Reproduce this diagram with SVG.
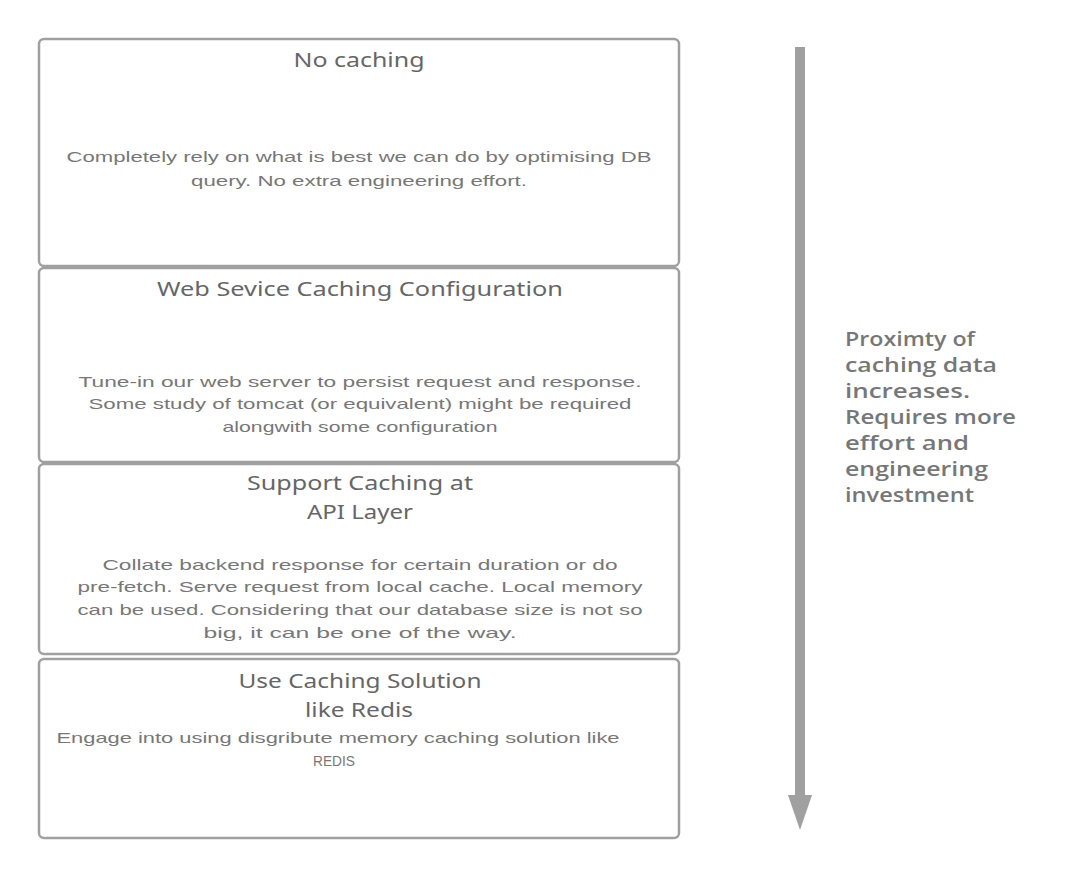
<svg xmlns="http://www.w3.org/2000/svg" width="1080" height="880" viewBox="0 0 1080 880">
<style>
.box{fill:#ffffff;stroke:#a0a0a0;stroke-width:2.5}
.t{font-family:"Noto Sans","Liberation Sans",sans-serif;font-size:19px;fill:#666666;text-anchor:middle}
.b{font-family:"Liberation Sans","Noto Sans",sans-serif;font-size:15px;fill:#777777;text-anchor:middle}
.r{font-family:"Open Sans","Noto Sans","Liberation Sans",sans-serif;font-size:19px;font-weight:600;fill:#777777}
</style>
<rect width="1080" height="880" fill="#ffffff"/>
<g id="node-no-caching">
<rect class="box" x="39" y="39" width="640" height="227" rx="5"/>
<text class="t" x="359" y="67" textLength="131" lengthAdjust="spacingAndGlyphs">No caching</text>
<text class="b" x="359" y="162" textLength="585" lengthAdjust="spacingAndGlyphs">Completely rely on what is best we can do by optimising DB</text>
<text class="b" x="359" y="186" textLength="336" lengthAdjust="spacingAndGlyphs">query. No extra engineering effort.</text>
</g>
<g id="node-web-service">
<rect class="box" x="39" y="268" width="640" height="194" rx="5"/>
<text class="t" x="360" y="296" textLength="406" lengthAdjust="spacingAndGlyphs">Web Sevice Caching Configuration</text>
<text class="b" x="360" y="387" textLength="563" lengthAdjust="spacingAndGlyphs">Tune-in our web server to persist request and response.</text>
<text class="b" x="360" y="409" textLength="543" lengthAdjust="spacingAndGlyphs">Some study of tomcat (or equivalent) might be required</text>
<text class="b" x="360" y="432" textLength="275" lengthAdjust="spacingAndGlyphs">alongwith some configuration</text>
</g>
<g id="node-api-layer">
<rect class="box" x="39" y="464" width="640" height="190" rx="5"/>
<text class="t" x="360" y="490" textLength="226" lengthAdjust="spacingAndGlyphs">Support Caching at</text>
<text class="t" x="360" y="519" textLength="106" lengthAdjust="spacingAndGlyphs">API Layer</text>
<text class="b" x="360" y="570" textLength="515" lengthAdjust="spacingAndGlyphs">Collate backend response for certain duration or do</text>
<text class="b" x="360" y="592" textLength="565" lengthAdjust="spacingAndGlyphs">pre-fetch. Serve request from local cache. Local memory</text>
<text class="b" x="360" y="615" textLength="565" lengthAdjust="spacingAndGlyphs">can be used. Considering that our database size is not so</text>
<text class="b" x="360" y="638" textLength="313" lengthAdjust="spacingAndGlyphs">big, it can be one of the way.</text>
</g>
<g id="node-redis">
<rect class="box" x="39" y="659" width="640" height="179" rx="5"/>
<text class="t" x="360" y="688" textLength="243" lengthAdjust="spacingAndGlyphs">Use Caching Solution</text>
<text class="t" x="359" y="717" textLength="108" lengthAdjust="spacingAndGlyphs">like Redis</text>
<text class="b" x="338" y="743" textLength="563" lengthAdjust="spacingAndGlyphs">Engage into using disgribute memory caching solution like</text>
<text class="b" x="334" y="766" textLength="42" lengthAdjust="spacingAndGlyphs">REDIS</text>
</g>
<g id="connectors">
<rect x="795" y="47" width="10" height="749" fill="#a0a0a0"/>
<polygon points="788,795 812,795 800,830" fill="#a0a0a0"/>
</g>
<g id="label-proximity">
<text class="r" x="845" y="346" textLength="130" lengthAdjust="spacingAndGlyphs">Proximty of</text>
<text class="r" x="845" y="372" textLength="152" lengthAdjust="spacingAndGlyphs">caching data</text>
<text class="r" x="845" y="398" textLength="125" lengthAdjust="spacingAndGlyphs">increases.</text>
<text class="r" x="845" y="424" textLength="171" lengthAdjust="spacingAndGlyphs">Requires more</text>
<text class="r" x="845" y="450" textLength="124" lengthAdjust="spacingAndGlyphs">effort and</text>
<text class="r" x="845" y="476" textLength="143" lengthAdjust="spacingAndGlyphs">engineering</text>
<text class="r" x="845" y="502" textLength="129" lengthAdjust="spacingAndGlyphs">investment</text>
</g>
</svg>
